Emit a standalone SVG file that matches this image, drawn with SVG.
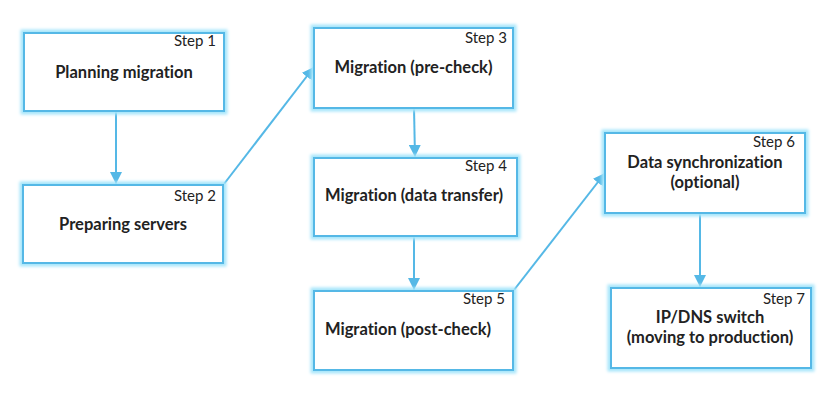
<svg xmlns="http://www.w3.org/2000/svg" width="827" height="396" viewBox="0 0 827 396">
  <defs>
    <style>
      .glow { fill: none; stroke: #a6e6fb; stroke-width: 7; filter: url(#blur); }
      .box { fill: #ffffff; stroke: #55b8e6; stroke-width: 2; }
      .step { font-family: Lato, "Liberation Sans", sans-serif; font-size: 15px; fill: #222222; text-anchor: end; font-variant-ligatures: none; }
      .title { font-family: Lato, "Liberation Sans", sans-serif; font-size: 16.5px; font-weight: bold; fill: #222222; text-anchor: middle; font-variant-ligatures: none; }
      .conn { fill: none; stroke: #55b8e6; stroke-width: 2; marker-end: url(#arrow); }
    </style>
    <filter id="blur" x="-10%" y="-10%" width="120%" height="120%">
      <feGaussianBlur stdDeviation="1.6"/>
    </filter>
    <marker id="arrow" markerUnits="userSpaceOnUse" markerWidth="12" markerHeight="12" viewBox="0 0 10 10" refX="10" refY="5" orient="auto">
      <path d="M0,0 L10,5 L0,10 z" fill="#55b8e6"/>
    </marker>
  </defs>
  <rect width="827" height="396" fill="#ffffff"/>

  <g id="connectors">
    <line class="conn" x1="116" y1="111" x2="116" y2="184"/>
    <line class="conn" x1="224" y1="184" x2="314" y2="67"/>
    <line class="conn" x1="414" y1="108" x2="415" y2="157"/>
    <line class="conn" x1="414" y1="236" x2="414" y2="290"/>
    <line class="conn" x1="514" y1="290" x2="605" y2="173"/>
    <line class="conn" x1="700" y1="213" x2="700" y2="287"/>
  </g>

  <g id="step1">
    <rect class="glow" x="24" y="33" width="200" height="78"/>
    <rect class="box" x="24" y="33" width="200" height="78"/>
    <text class="step" x="216" y="46">Step 1</text>
    <text class="title" x="124" y="78">Planning migration</text>
  </g>

  <g id="step2">
    <rect class="glow" x="23" y="185" width="200" height="78"/>
    <rect class="box" x="23" y="185" width="200" height="78"/>
    <text class="step" x="216" y="201">Step 2</text>
    <text class="title" x="123" y="230">Preparing servers</text>
  </g>

  <g id="step3">
    <rect class="glow" x="314" y="28" width="199" height="80"/>
    <rect class="box" x="314" y="28" width="199" height="80"/>
    <text class="step" x="507" y="43">Step 3</text>
    <text class="title" x="413.5" y="73">Migration (pre-check)</text>
  </g>

  <g id="step4">
    <rect class="glow" x="314" y="158" width="203" height="78"/>
    <rect class="box" x="314" y="158" width="203" height="78"/>
    <text class="step" x="507" y="171">Step 4</text>
    <text class="title" x="414" y="201">Migration (data transfer)</text>
  </g>

  <g id="step5">
    <rect class="glow" x="314" y="291" width="199" height="79"/>
    <rect class="box" x="314" y="291" width="199" height="79"/>
    <text class="step" x="505" y="304">Step 5</text>
    <text class="title" x="408" y="335">Migration (post-check)</text>
  </g>

  <g id="step6">
    <rect class="glow" x="605" y="133" width="200" height="80"/>
    <rect class="box" x="605" y="133" width="200" height="80"/>
    <text class="step" x="795" y="147">Step 6</text>
    <text class="title" x="705" y="168">Data synchronization</text>
    <text class="title" x="705" y="188">(optional)</text>
  </g>

  <g id="step7">
    <rect class="glow" x="611" y="288" width="200" height="80"/>
    <rect class="box" x="611" y="288" width="200" height="80"/>
    <text class="step" x="805" y="304">Step 7</text>
    <text class="title" x="710" y="323">IP/DNS switch</text>
    <text class="title" x="710" y="343">(moving to production)</text>
  </g>
</svg>
